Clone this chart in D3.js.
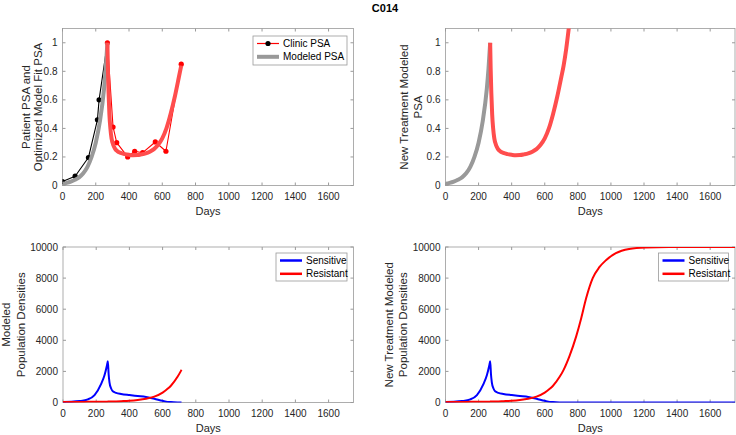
<!DOCTYPE html>
<html><head><meta charset="utf-8">
<script src="https://cdn.jsdelivr.net/npm/d3@7"></script>
<style>
body{margin:0;background:#fff;}
text{font-family:"Liberation Sans",Arial,Helvetica,sans-serif;}
</style></head>
<body><svg id="chart" width="736" height="435"></svg>
<script>
// ---------- DATA ----------
const xTicks = [0,200,400,600,800,1000,1200,1400,1600];
const psaTicks = [0,0.2,0.4,0.6,0.8,1];
const popTicks = [0,2000,4000,6000,8000,10000];

// Clinic PSA (pre-treatment, black) and (treatment, red)
const clinicPreDays = [0,76,156,210,220,270];
const clinicPrePSA  = [0.028,0.065,0.196,0.46,0.60,1.0];
const clinicPostDays = [270,304,326,392,434,482,558,622,714];
const clinicPostPSA  = [1.0,0.41,0.30,0.20,0.24,0.23,0.305,0.24,0.85];

// Modeled PSA, pre-treatment (grey)
const modelPreDays = [0,25,50,75,100,125,150,175,200,225,250,260,270];
const modelPrePSA  = [0.012,0.018,0.027,0.04,0.057,0.085,0.13,0.2,0.3,0.45,0.68,0.82,1.0];
// Modeled PSA, treatment (red)
const modelPostDays = [270,273,277,282,288,295,305,315,330,350,375,400,425,450,475,500,525,550,575,600,625,650,675,700,714,730,745,760];
const modelPostPSA  = [1.0,0.82,0.65,0.5,0.4,0.33,0.285,0.26,0.24,0.228,0.22,0.215,0.212,0.213,0.218,0.225,0.237,0.255,0.285,0.33,0.4,0.5,0.62,0.76,0.84,0.96,1.1,1.25];

// Population densities
const popDays = [0,50,100,150,190,230,250,265,270,275,280,290,300,320,350,400,450,500,550,600,630,650,690,714,750,790,820,850,890,930,970,1030,1110,1210,1350,1500,1750];
const sensitive = [40,50,90,200,480,1200,1750,2400,2650,1800,1300,900,720,620,550,480,420,360,240,110,40,25,8,3,0,0,0,0,0,0,0,0,0,0,0,0,0];
const resistant = [30,33,37,42,46,50,53,55,57,58,60,62,65,72,85,110,160,240,380,640,880,1080,1650,2100,3000,4250,5400,6700,8000,8700,9150,9600,9870,9970,10000,10000,10000];

// ---------- DRAWING ----------
const svg = d3.select("#chart");
const axisGrey = "#9a9a9a", textCol = "#262626";

svg.append("text").attr("x",385).attr("y",11.5).attr("text-anchor","middle")
  .attr("font-size",11).attr("font-weight","bold").attr("fill","#000").text("C014");

let clipId = 0;
function panel(o){
  const x = d3.scaleLinear().domain([0,1750]).range([o.x0,o.x1]);
  const y = d3.scaleLinear().domain(o.ydom).range([o.y1,o.y0]);
  const g = svg.append("g");
  const id = "clip"+(clipId++);
  svg.append("clipPath").attr("id",id).append("rect")
    .attr("x",o.x0).attr("y",o.y0).attr("width",o.x1-o.x0).attr("height",o.y1-o.y0);
  const tl = 3;
  o.xt.forEach(v=>{
    g.append("text").attr("x",x(v)).attr("y",o.y1+14).attr("text-anchor","middle")
      .attr("font-size",10).attr("fill",textCol).text(v);
    g.append("line").attr("x1",x(v)).attr("x2",x(v)).attr("y1",o.y1).attr("y2",o.y1-tl).attr("stroke",axisGrey);
    g.append("line").attr("x1",x(v)).attr("x2",x(v)).attr("y1",o.y0).attr("y2",o.y0+tl).attr("stroke",axisGrey);
  });
  o.yt.forEach(v=>{
    g.append("text").attr("x",o.x0-5).attr("y",y(v)+3.5).attr("text-anchor","end")
      .attr("font-size",10).attr("fill",textCol).text(o.fmt(v));
    g.append("line").attr("x1",o.x0).attr("x2",o.x0+tl).attr("y1",y(v)).attr("y2",y(v)).attr("stroke",axisGrey);
    g.append("line").attr("x1",o.x1).attr("x2",o.x1-tl).attr("y1",y(v)).attr("y2",y(v)).attr("stroke",axisGrey);
  });
  g.append("rect").attr("x",o.x0).attr("y",o.y0).attr("width",o.x1-o.x0).attr("height",o.y1-o.y0)
    .attr("fill","none").attr("stroke",axisGrey).attr("stroke-width",0.8);
  g.append("text").attr("x",(o.x0+o.x1)/2).attr("y",o.y1+29).attr("text-anchor","middle")
    .attr("font-size",11).attr("fill",textCol).text("Days");
  const cy = (o.y0+o.y1)/2;
  o.ylab.forEach((l,i)=>{
    g.append("text").attr("transform",`translate(${l.x},${cy}) rotate(-90)`)
      .attr("text-anchor","middle").attr("font-size",11.5).attr("fill",textCol).text(l.t);
  });
  const plot = svg.append("g").attr("clip-path",`url(#${id})`);
  return {x,y,plot};
}
function line(p, xs, ys, color, w, curve){
  const pts = xs.map((d,i)=>[d,ys[i]]);
  p.plot.append("path").datum(pts)
    .attr("d", d3.line().x(d=>p.x(d[0])).y(d=>p.y(d[1])).curve(curve||d3.curveMonotoneX))
    .attr("fill","none").attr("stroke",color).attr("stroke-width",w)
    .attr("stroke-linejoin","round").attr("stroke-linecap","butt");
  return pts;
}
function dots(p, xs, ys, color){
  xs.forEach((d,i)=>p.plot.append("circle").attr("cx",p.x(d)).attr("cy",p.y(ys[i])).attr("r",2.6).attr("fill",color));
}
function legend(x0,y0,w,h,items){
  svg.append("rect").attr("x",x0).attr("y",y0).attr("width",w).attr("height",h)
    .attr("fill","#fff").attr("stroke",axisGrey).attr("stroke-width",0.8);
  items.forEach((it,i)=>{
    const yy = y0+7.5+i*13.3;
    svg.append("line").attr("x1",x0+4).attr("x2",x0+26).attr("y1",yy).attr("y2",yy)
      .attr("stroke",it.c).attr("stroke-width",it.w);
    if(it.dot) svg.append("circle").attr("cx",x0+15).attr("cy",yy).attr("r",2.6).attr("fill",it.dot);
    svg.append("text").attr("x",x0+30).attr("y",yy+3.6).attr("font-size",10).attr("fill","#000").text(it.t);
  });
}
const psaFmt = v=>v===0?"0":(v===1?"1":d3.format(".1f")(v));
const popFmt = v=>String(v);
const red="#ff4d4d", grey="#999999";

// Top-left
const tl = panel({x0:62.5,x1:353.5,y0:28.5,y1:185.5,ydom:[0,1.1],xt:xTicks,yt:psaTicks,fmt:psaFmt,
  ylab:[{x:29.5,t:"Patient PSA and"},{x:42,t:"Optimized Model Fit PSA"}]});
line(tl, clinicPreDays, clinicPrePSA, "#000", 1.1, d3.curveLinear);
dots(tl, clinicPreDays.slice(0,-1), clinicPrePSA.slice(0,-1), "#000");
line(tl, clinicPostDays, clinicPostPSA, "#ff0000", 1.1, d3.curveLinear);
dots(tl, clinicPostDays, clinicPostPSA, "#ff0000");
line(tl, modelPreDays, modelPrePSA, grey, 4);
const cut = modelPostDays.indexOf(714);
line(tl, modelPostDays.slice(0,cut+1), modelPostPSA.slice(0,cut+1), red, 4);
legend(253,36,94,29,[{t:"Clinic PSA",c:"#ff0000",w:1.2,dot:"#000"},{t:"Modeled PSA",c:grey,w:4}]);

// Top-right
const tr = panel({x0:445.5,x1:735,y0:28.5,y1:185.5,ydom:[0,1.1],xt:xTicks,yt:psaTicks,fmt:psaFmt,
  ylab:[{x:407.5,t:"New Treatment Modeled"},{x:422,t:"PSA"}]});
line(tr, modelPreDays, modelPrePSA, grey, 4);
line(tr, modelPostDays, modelPostPSA, red, 4);

// Bottom-left
const bl = panel({x0:63,x1:353.5,y0:247,y1:402.5,ydom:[0,10000],xt:xTicks,yt:popTicks,fmt:popFmt,
  ylab:[{x:9.5,t:"Modeled"},{x:24.5,t:"Population Densities"}]});
const bcut = popDays.indexOf(714);
line(bl, popDays.slice(0,bcut+1), sensitive.slice(0,bcut+1), "#0000ff", 2);
line(bl, popDays.slice(0,bcut+1), resistant.slice(0,bcut+1), "#ff0000", 2);
legend(276,253,71,28,[{t:"Sensitive",c:"#0000ff",w:2.5},{t:"Resistant",c:"#ff0000",w:2.5}]);

// Bottom-right
const br = panel({x0:445.5,x1:735,y0:247,y1:402.5,ydom:[0,10000],xt:xTicks,yt:popTicks,fmt:popFmt,
  ylab:[{x:392.5,t:"New Treatment Modeled"},{x:407,t:"Population Densities"}]});
line(br, popDays, sensitive, "#0000ff", 2);
line(br, popDays, resistant, "#ff0000", 2);
legend(658.5,253,70,28,[{t:"Sensitive",c:"#0000ff",w:2.5},{t:"Resistant",c:"#ff0000",w:2.5}]);
</script></body></html>
